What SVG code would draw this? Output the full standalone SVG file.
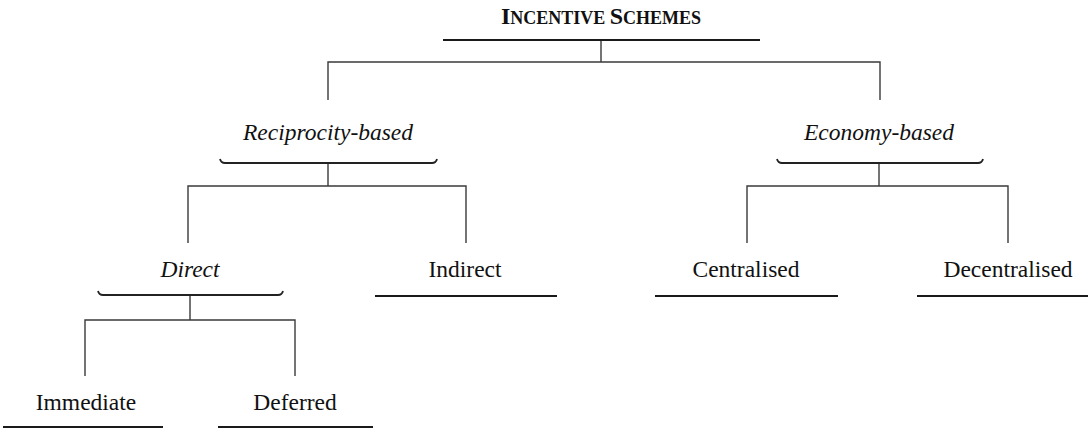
<svg xmlns="http://www.w3.org/2000/svg" width="1088" height="429" viewBox="0 0 1088 429">
<style>
text{font-family:"Liberation Serif","Times New Roman",serif;font-size:23.5px;fill:#111;text-anchor:middle}
.it{font-style:italic}
.t{font-weight:bold}
.ul{fill:none;stroke:#1a1a1a;stroke-width:1.8}
.br{fill:none;stroke:#222;stroke-width:1.8}
.cn{fill:none;stroke:#3a3a3a;stroke-width:1.4}
</style>
<rect width="1088" height="429" fill="#fff"/>
<g id="connectors">
<path class="cn" d="M601,40 V62 M328,100 V62 H880 V100"/>
<path class="cn" d="M328,163 V186 M188,243 V186 H466 V243"/>
<path class="cn" d="M879,163 V186 M747,243 V186 H1008 V243"/>
<path class="cn" d="M190,295 V320 M85,376 V320 H295 V376"/>
</g>
<g id="incentive-schemes">
<text class="t" x="601" y="24"><tspan font-size="24">I</tspan><tspan font-size="18">NCENTIVE </tspan><tspan font-size="24">S</tspan><tspan font-size="18">CHEMES</tspan></text>
<path class="ul" d="M443,40 H760"/>
</g>
<g id="reciprocity-based">
<text class="it" x="328" y="140">Reciprocity-based</text>
<path class="br" d="M220,159 Q221,163 225,163 H432 Q436,163 437,159"/>
</g>
<g id="economy-based">
<text class="it" x="879" y="140">Economy-based</text>
<path class="br" d="M777,159 Q778,163 782,163 H978 Q982,163 983,159"/>
</g>
<g id="direct">
<text class="it" x="190" y="277">Direct</text>
<path class="br" d="M98,291 Q99,295 103,295 H278 Q282,295 283,291"/>
</g>
<g id="indirect">
<text x="465" y="277">Indirect</text>
<path class="ul" d="M375,296 H557"/>
</g>
<g id="centralised">
<text x="746" y="277">Centralised</text>
<path class="ul" d="M655,296 H838"/>
</g>
<g id="decentralised">
<text x="1008" y="277">Decentralised</text>
<path class="ul" d="M917,296 H1088"/>
</g>
<g id="immediate">
<text x="86" y="410">Immediate</text>
<path class="ul" d="M3,427 H163"/>
</g>
<g id="deferred">
<text x="295" y="410">Deferred</text>
<path class="ul" d="M218,427 H373"/>
</g>
</svg>
